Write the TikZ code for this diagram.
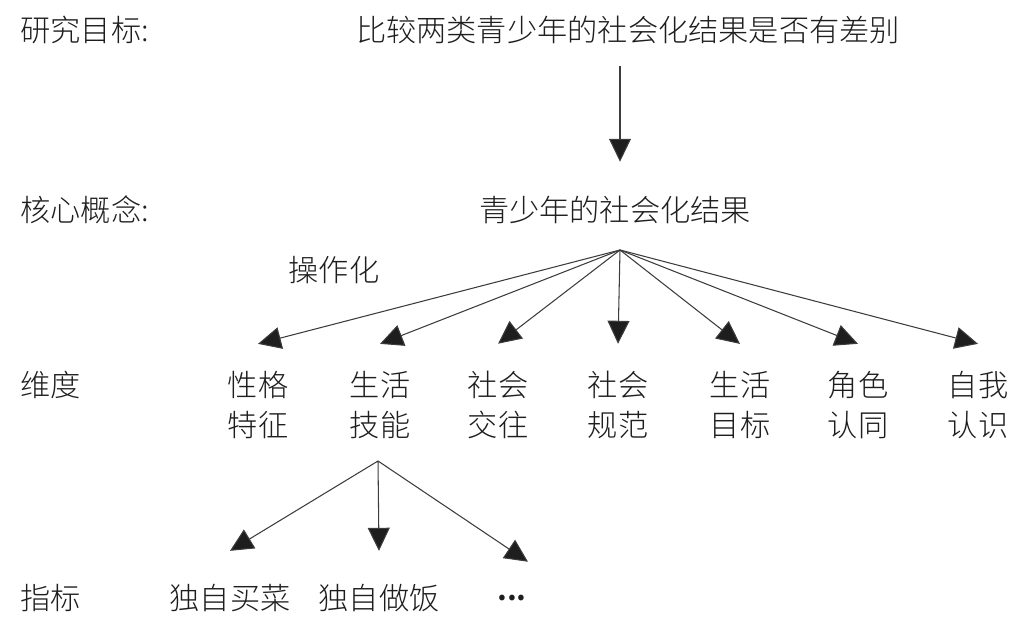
\documentclass[tikz,border=0pt]{standalone}
\usepackage{fontspec}
\newfontfamily\cjk{Noto Sans CJK SC}[UprightFont={* Light}]
\usetikzlibrary{arrows.meta}
\definecolor{inkgray}{RGB}{30,30,30}
\definecolor{linegray}{RGB}{60,60,60}

\begin{document}
\begin{tikzpicture}[x=0.02cm, y=-0.02cm,
    every node/.style={font=\cjk\fontsize{17.2}{22.8}\selectfont, text=inkgray, inner sep=0pt},
    arr/.style={-{Triangle[length=0.46cm, width=0.44cm, fill=inkgray]}, line width=0.6pt, linegray}]
  \useasboundingbox (0,0) rectangle (1017,634);
  % row labels
  \node[anchor=west] (lgoal) at (20,30) {研究目标:};
  \node[anchor=west] (lcore) at (20,210) {核心概念:};
  \node[anchor=west] (ldim) at (20,385) {维度};
  \node[anchor=west] (lind) at (20,598) {指标};
  % goal and concept
  \node (goal) at (628,30) {比较两类青少年的社会化结果是否有差别};
  \node (core) at (615,210) {青少年的社会化结果};
  \coordinate (fan) at (620,250);
  \draw[arr, shorten <=0.44cm, shorten >=0.68cm] (goal.south -| fan) -- (core.north -| fan);
  \node (op) at (334,270) {操作化};
  % dimensions
  \foreach \a/\b/\x [count=\i] in {性格/特征/258, 生活/技能/380, 社会/交往/498, 社会/规范/618,
      生活/目标/740, 角色/认同/858, 自我/认识/978}
    \node[align=center] (d\i) at (\x,405) {\a\\\b};
  \foreach \i in {1,...,7} \draw[arr] (fan) -- ([yshift=0.54cm]d\i.north);
  % indicators
  \coordinate (fan2) at (378,461);
  \node (i1) at (230,598) {独自买菜};
  \node (i2) at (379,598) {独自做饭};
  \node (i3) at (512,598) {\textbf{...}};
  \draw[arr] (fan2) -- ([yshift=0.66cm]i1.north);
  \draw[arr] (fan2) -- ([yshift=0.66cm]i2.north);
  \draw[arr] (fan2) -- ([xshift=0.32cm, yshift=0.66cm]i3.north);
\end{tikzpicture}
\end{document}
